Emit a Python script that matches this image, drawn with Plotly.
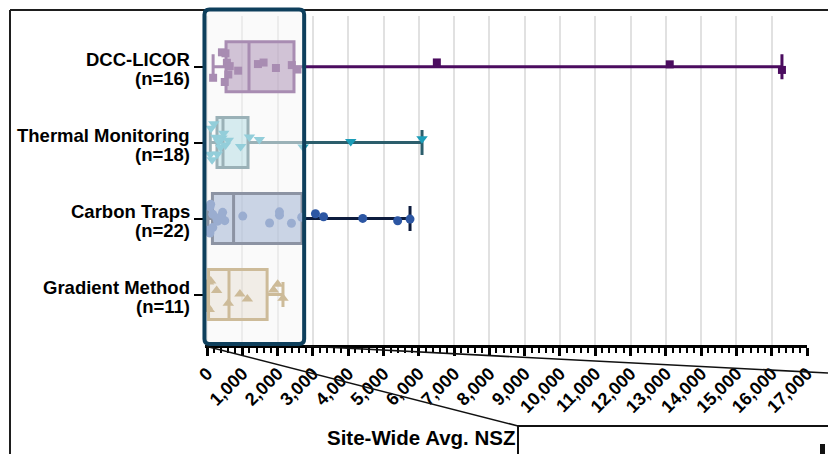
import plotly.graph_objects as go

# ---- data -------------------------------------------------------------
methods = ["DCC-LICOR", "Thermal Monitoring", "Carbon Traps", "Gradient Method"]

dcc_licor = [170, 420, 500, 520, 560, 600, 640, 880, 1440, 1600, 1950, 2400, 2560,
             6510, 13110, 16290]
thermal = [90, 110, 140, 190, 250, 290, 330, 380, 420, 470, 520, 600, 950, 1200,
           1480, 2720, 4070, 6090]
carbon = [25, 80, 80, 100, 160, 160, 270, 300, 410, 440, 500, 1010, 1770, 2050,
          2050, 2390, 2680, 3070, 3300, 4410, 5400, 5750]
gradient = [0, 40, 60, 100, 270, 600, 930, 1140, 1880, 2000, 2150]

samples = [dcc_licor, thermal, carbon, gradient]

# box statistics (quartiles) per method
q1 = [536, 280, 150, 40]
median = [1187, 450, 750, 620]
q3 = [2462, 1159, 2690, 1700]

# zoomed-in region of the x axis
zoom_region = [-75, 2750]

# ---- styling ----------------------------------------------------------
line_colors = ["#4b0c5f", "#2c5e6c", "#0d1c3e", "#9c7429"]
marker_colors = ["#4b0c5f", "#1b9db8", "#2c56a3", "#9c7429"]
fill_alpha = [0.5, 0.35, 0.5, 0.2]
symbols = ["square", "triangle-down", "circle", "triangle-up"]
sizes = [8, 10, 9, 10]

W, H = 828, 454
L, R, T, B = 205, 21, 16, 109
XR = [-60, 17000]
YR = [3.665, -0.667]
BOX_W = 0.658


def rgba(hex_color, a):
    h = hex_color.lstrip("#")
    r, g, b = int(h[0:2], 16), int(h[2:4], 16), int(h[4:6], 16)
    return f"rgba({r},{g},{b},{a})"


def fx(px):
    return (px - L) / (W - L - R)


def fy(py):
    return (H - B - py) / (H - T - B)


def data_to_paper_x(v):
    return (v - XR[0]) / (XR[1] - XR[0])


fig = go.Figure()

for i, name in enumerate(methods):
    vals = samples[i]
    # box with whiskers spanning the full sample range
    fig.add_trace(go.Box(
        y=[name], q1=[q1[i]], median=[median[i]], q3=[q3[i]],
        lowerfence=[min(vals)], upperfence=[max(vals)],
        orientation="h", boxpoints=False, width=BOX_W, whiskerwidth=0.5,
        line=dict(color=line_colors[i], width=3),
        fillcolor=rgba(marker_colors[i], fill_alpha[i]),
        hoverinfo="skip",
    ))
    # individual sites, jittered
    fig.add_trace(go.Box(
        x=vals, y=[name] * len(vals), orientation="h",
        boxpoints="all", jitter=0.9, pointpos=0, width=BOX_W,
        whiskerwidth=0, fillcolor="rgba(0,0,0,0)",
        line=dict(color="rgba(0,0,0,0)", width=0),
        marker=dict(symbol=symbols[i], size=sizes[i], color=marker_colors[i],
                    line=dict(width=0)),
        hoveron="points",
    ))

# category labels (name on top, sample size below)
for i, name in enumerate(methods):
    fig.add_annotation(x=fx(191), xref="paper", y=i, yref="y",
                       text=name, xanchor="right", yanchor="middle",
                       yshift=7, showarrow=False, borderpad=0,
                       font=dict(size=18.5, weight="bold", color="black"))
    fig.add_annotation(x=fx(191), xref="paper", y=i, yref="y",
                       text=f"(n={len(samples[i])})", xanchor="right",
                       yanchor="middle", yshift=-11.5, showarrow=False, borderpad=0,
                       font=dict(size=18.5, weight="bold", color="black"))

# axis title
fig.add_annotation(x=fx(517), xref="paper", y=fy(437), yref="paper",
                   text="Site-Wide Avg. NSZ", xanchor="right", yanchor="middle",
                   showarrow=False, borderpad=0,
                   font=dict(size=20.5, weight="bold", color="black"))

# highlighted zoom region (rounded rectangle, translucent)
x0 = data_to_paper_x(zoom_region[0])
x1 = data_to_paper_x(zoom_region[1])
y0, y1 = fy(344), fy(9.5)
rx, ry = 5 / (W - L - R), 5 / (H - T - B)
path = (f"M {x0+rx},{y1} L {x1-rx},{y1} Q {x1},{y1} {x1},{y1-ry} "
        f"L {x1},{y0+ry} Q {x1},{y0} {x1-rx},{y0} "
        f"L {x0+rx},{y0} Q {x0},{y0} {x0},{y0+ry} "
        f"L {x0},{y1-ry} Q {x0},{y1} {x0+rx},{y1} Z")

shapes = [
    # outer panel frame
    dict(type="line", xref="paper", yref="paper", x0=fx(10), y0=fy(10),
         x1=fx(840), y1=fy(10), line=dict(color="#1e1e1e", width=2), layer="above"),
    dict(type="line", xref="paper", yref="paper", x0=fx(10), y0=fy(10),
         x1=fx(10), y1=fy(470), line=dict(color="#1e1e1e", width=2), layer="above"),
    # connector lines to the inset
    dict(type="line", xref="paper", yref="paper", x0=fx(205), y0=fy(346),
         x1=fx(518), y1=fy(426), line=dict(color="#111111", width=1.6), layer="above"),
    dict(type="line", xref="paper", yref="paper", x0=fx(305), y0=fy(346),
         x1=fx(828), y1=fy(373), line=dict(color="#111111", width=1.6), layer="above"),
    # inset panel
    dict(type="rect", xref="paper", yref="paper", x0=fx(518), y0=fy(470),
         x1=fx(840), y1=fy(426), fillcolor="white",
         line=dict(color="#111111", width=2), layer="above"),
    dict(type="rect", xref="paper", yref="paper", x0=fx(820), y0=fy(470),
         x1=fx(825), y1=fy(444), fillcolor="#111111",
         line=dict(width=0), layer="above"),
    # highlight
    dict(type="path", xref="paper", yref="paper", path=path,
         fillcolor="rgba(245,245,245,0.55)",
         line=dict(color="#0e3f5c", width=4), layer="above"),
]

fig.update_layout(
    width=W, height=H,
    margin=dict(l=L, r=R, t=T, b=B, pad=0),
    plot_bgcolor="white", paper_bgcolor="white",
    boxmode="overlay", showlegend=False,
    font=dict(family="Liberation Sans, Arial, sans-serif", color="black"),
    shapes=shapes,
    xaxis=dict(
        range=XR, tickmode="linear", tick0=0, dtick=1000, tickformat=",d",
        tickangle=-45, tickfont=dict(size=18, weight="bold", color="black"),
        ticks="outside", ticklen=8, tickwidth=2.5, tickcolor="black",
        showline=True, linewidth=3, linecolor="black",
        showgrid=True, gridcolor="#e1e1e1", gridwidth=1.5, zeroline=False,
        automargin=False,
        minor=dict(dtick=200, ticks="outside", ticklen=5, tickwidth=1.5,
                   tickcolor="black", showgrid=False),
    ),
    yaxis=dict(
        type="category", categoryarray=methods, categoryorder="array",
        range=YR, showticklabels=False, ticks="outside", ticklen=10,
        tickwidth=2, tickcolor="black", showgrid=False, showline=False,
        zeroline=False, automargin=False,
    ),
)

fig.write_html("out.html")
